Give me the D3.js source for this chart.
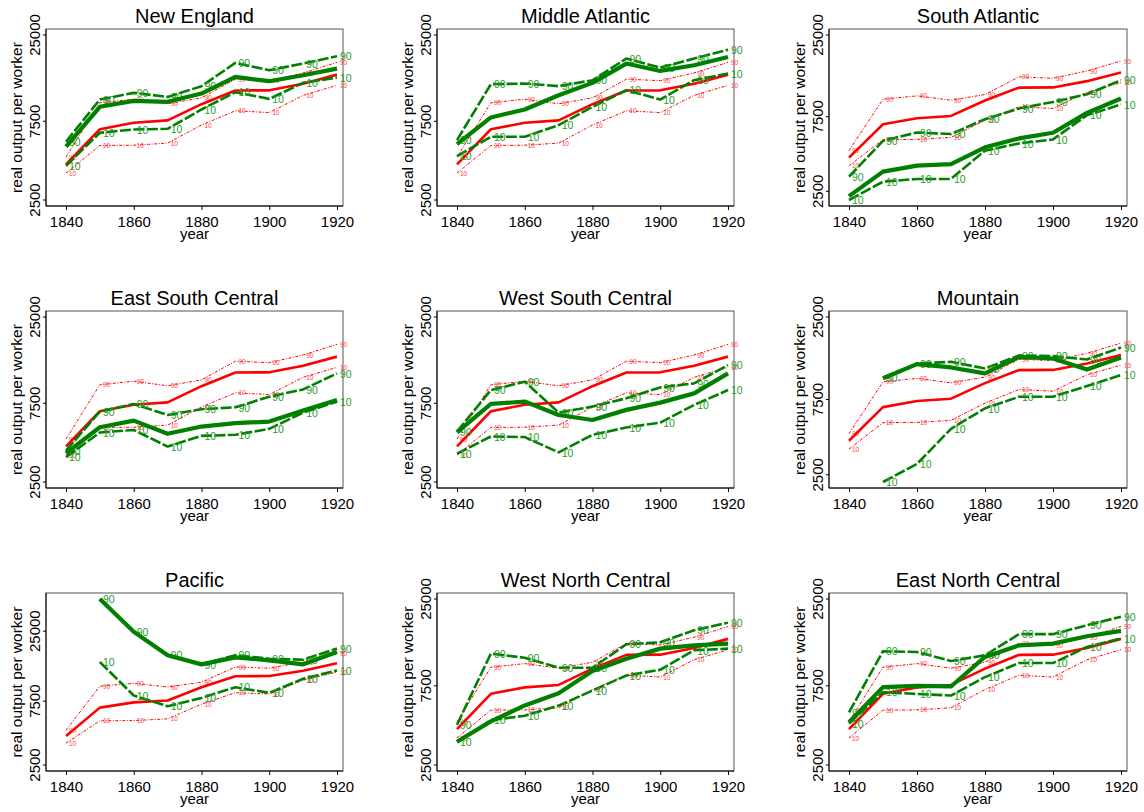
<!DOCTYPE html>
<html>
<head>
<meta charset="utf-8">
<script src="https://cdn.jsdelivr.net/npm/d3@7"></script>
<style>
  body { margin: 0; background: #fff; }
  svg { font-family: "Liberation Sans", Arial, Helvetica, sans-serif; }
</style>
</head>
<body>
<div id="chart"></div>
<script>
// years and tick values
const years = [1840, 1850, 1860, 1870, 1880, 1890, 1900, 1910, 1920];
const xTicks = [1840, 1860, 1880, 1900, 1920];
const yTicks = [2500, 7500, 25000];

const regions = ["New England", "Middle Atlantic", "South Atlantic",
  "East South Central", "West South Central", "Mountain",
  "Pacific", "West North Central", "East North Central"];

// national percentiles (red, same in every panel)
const usP50 = [4110, 6710, 7340, 7590, 9520, 11520, 11550, 12670, 14380];
const usP90 = [4550, 9710, 10200, 9570, 10400, 13490, 13220, 14720, 17060];
const usP10 = [3640, 5350, 5370, 5530, 7120, 8680, 8470, 10770, 12380];

// regional percentiles (green), null = no data
const regP50 = [
  [5260, 9180, 9970, 9840, 11040, 13930, 13120, 14260, 15640],
  [5450, 7910, 8840, 10790, 12820, 16780, 15140, 16400, 18400],
  [2330, 3340, 3650, 3730, 4780, 5450, 5920, 7940, 9810],
  [3740, 5370, 5890, 4900, 5420, 5680, 5810, 6770, 7850],
  [4990, 7430, 7680, 6370, 5940, 6840, 7570, 8610, 11380],
  [null, 10200, 12560, 11970, 10970, 13970, 13640, 11620, 13840],
  [null, 43500, 24720, 16520, 14130, 15940, 15140, 14130, 17490],
  [3450, 4580, 5710, 6760, 9200, 10920, 12560, 13150, 13460],
  [4520, 7360, 7500, 7430, 11190, 13150, 13460, 14920, 16070]
];
const regP90 = [
  [5640, 10160, 11150, 10540, 12240, 16930, 15290, 16780, 18580],
  [5770, 12580, 12700, 12240, 13300, 17990, 15850, 17990, 20370],
  [3100, 5260, 5950, 5810, 7240, 8470, 9330, 10450, 12850],
  [3880, 6680, 7430, 6370, 6900, 7090, 8220, 9100, 11380],
  [5060, 9020, 10140, 6590, 7160, 8040, 9360, 9900, 12770],
  [null, 10350, 12680, 13000, 11800, 14250, 14120, 13450, 16000],
  [null, 43500, 24720, 16610, 14130, 16520, 15560, 15310, 18530],
  [4370, 11720, 11070, 9640, 9640, 13340, 13710, 16220, 17990],
  [5190, 12110, 11990, 10570, 11450, 15350, 15350, 17380, 19540]
];
const regP10 = [
  [4030, 6390, 6690, 6750, 8840, 11250, 10250, 12820, 13800],
  [4610, 6040, 6040, 7110, 9180, 11570, 10160, 13300, 14590],
  [2200, 2880, 3000, 3000, 4550, 5060, 5370, 7680, 8980],
  [3540, 4990, 5170, 4100, 4760, 4830, 5250, 6590, 7670],
  [3710, 4720, 4680, 3780, 4830, 5350, 5730, 7330, 9020],
  [null, 2250, 2930, 4890, 6590, 7810, 7810, 9120, 10720],
  [null, 14700, 8260, 6870, 7930, 9530, 8650, 11020, 12730],
  [3450, 4660, 4950, 5700, 7020, 8650, 9370, 12270, 12560],
  [4450, 6860, 6700, 6550, 8460, 10280, 10280, 12850, 14450]
];

const width = 1144, height = 812;
const colLeft = [46, 437, 829];
const colRight = [343, 734, 1127];
const rowTop = [29, 311, 593];
const rowBottom = [206, 488, 771];

const red = "#ff0000", green = "#008000";

const svg = d3.select("#chart").append("svg")
  .attr("width", width)
  .attr("height", height);

regions.forEach((name, i) => {
  const c = i % 3, r = Math.floor(i / 3);
  const L = colLeft[c], R = colRight[c], T = rowTop[r], B = rowBottom[r];

  const all = [...usP50, ...usP90, ...usP10, ...regP50[i], ...regP90[i], ...regP10[i]]
    .filter(v => v != null);
  const lo = Math.min(2500, d3.min(all));
  const hi = Math.max(25000, d3.max(all));

  const x = d3.scaleLinear().domain([1840, 1920]).range([L + 20, R - 6]);
  const y = d3.scaleLog().domain([lo, hi]).range([B - 6, T + 6]);

  const g = svg.append("g");

  // cadre
  g.append("rect")
    .attr("x", L).attr("y", T)
    .attr("width", R - L).attr("height", B - T)
    .attr("fill", "none").attr("stroke", "#555").attr("stroke-width", 1);

  // eixos
  const yAxis = g.append("g")
    .attr("transform", `translate(${L},0)`)
    .call(d3.axisLeft(y).tickValues(yTicks).tickSize(3).tickFormat(d3.format("d")));
  yAxis.select(".domain").remove();
  yAxis.selectAll("line").attr("stroke", "#000");
  yAxis.selectAll("text")
    .attr("x", 0).attr("y", 0).attr("dy", null)
    .attr("transform", d => `translate(-6,${y(d)}) rotate(-90)`)
    .attr("text-anchor", "middle")
    .style("font-size", "15px").style("fill", "#000");
  yAxis.selectAll(".tick").attr("transform", null);
  yAxis.selectAll(".tick line").attr("transform", d => `translate(0,${y(d)})`);

  const xAxis = g.append("g")
    .attr("transform", `translate(0,${B})`)
    .call(d3.axisBottom(x).tickValues(xTicks).tickSize(4).tickFormat(d3.format("d")));
  xAxis.select(".domain").remove();
  xAxis.selectAll("line").attr("stroke", "#000");
  xAxis.selectAll("text")
    .attr("y", 21).attr("dy", null)
    .style("font-size", "15px").style("fill", "#000");

  g.append("line").attr("x1", L).attr("x2", L).attr("y1", T).attr("y2", B)
    .attr("stroke", "#000");
  g.append("line").attr("x1", L).attr("x2", R).attr("y1", B).attr("y2", B)
    .attr("stroke", "#000");

  // títols
  g.append("text")
    .attr("x", (L + R) / 2).attr("y", T - 6)
    .attr("text-anchor", "middle")
    .style("font-size", "20px")
    .text(name);
  g.append("text")
    .attr("x", (L + R) / 2).attr("y", B + 33)
    .attr("text-anchor", "middle")
    .style("font-size", "15px")
    .text("year");
  g.append("text")
    .attr("transform", `translate(${L - 24},${(T + B) / 2}) rotate(-90)`)
    .attr("text-anchor", "middle")
    .style("font-size", "15.5px")
    .text("real output per worker");

  const line = d3.line()
    .defined(d => d[1] != null)
    .x(d => x(d[0]))
    .y(d => y(d[1]));

  const series = [
    { vals: usP90, color: red, w: 1, dash: "3,1.5,1,1.5", lab: "90", lc: "#ff4040", fs: 6.5 },
    { vals: usP10, color: red, w: 1, dash: "3,1.5,1,1.5", lab: "10", lc: "#ff4040", fs: 6.5 },
    { vals: usP50, color: red, w: 2.6, dash: null },
    { vals: regP90[i], color: green, w: 2.6, dash: "11,2.5", lab: "90", lc: "#2a9a2a", fs: 10.5 },
    { vals: regP10[i], color: green, w: 2.6, dash: "11,2.5", lab: "10", lc: "#2a9a2a", fs: 10.5 },
    { vals: regP50[i], color: green, w: 4.2, dash: null }
  ];

  series.forEach(s => {
    const pts = years.map((yr, k) => [yr, s.vals[k]]);
    g.append("path")
      .datum(pts)
      .attr("d", line)
      .attr("fill", "none")
      .attr("stroke", s.color)
      .attr("stroke-width", s.w)
      .attr("stroke-dasharray", s.dash)
      .attr("stroke-linejoin", "round");
    if (s.lab) {
      g.selectAll(null)
        .data(pts.filter(d => d[1] != null))
        .enter()
        .append("text")
        .attr("x", d => x(d[0]) + 3)
        .attr("y", d => y(d[1]))
        .attr("dy", "0.4em")
        .style("font-size", s.fs + "px")
        .style("fill", s.lc)
        .text(s.lab);
    }
  });
});
</script>
</body>
</html>
